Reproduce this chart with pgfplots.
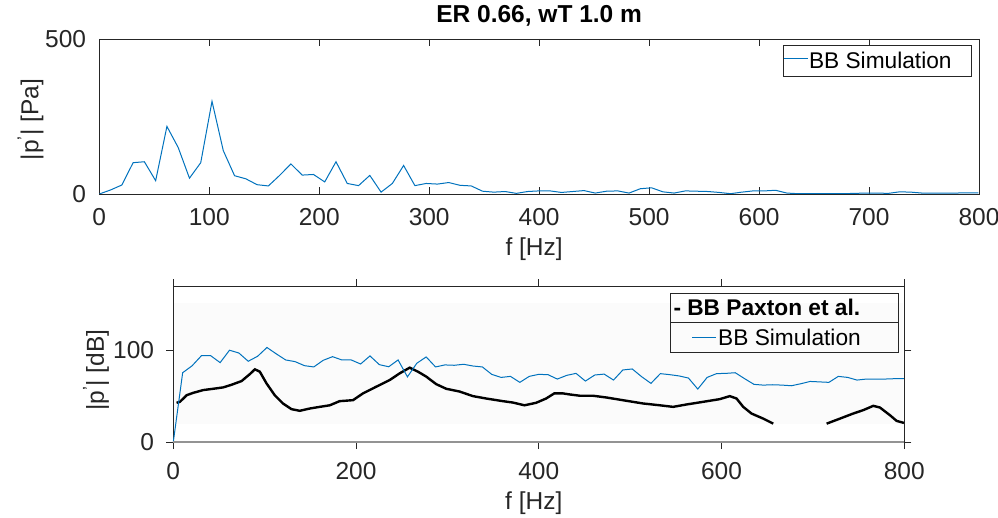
\documentclass[border=0pt]{standalone}
\usepackage{fontspec}
\setmainfont{Liberation Sans}
\usepackage{pgfplots}
\pgfplotsset{compat=1.18}
\definecolor{axcol}{HTML}{262626}
\definecolor{mblue}{HTML}{0072BD}

\begin{document}
\begin{tikzpicture}[font=\fontsize{24.5}{29}\selectfont]
\path[use as bounding box] (0pt,0pt) rectangle (998pt,517pt);
\pgfplotsset{
  mstyle/.style={
    scale only axis, anchor=south west,
    xmin=0, xmax=800,
    axis line style={axcol, line width=0.8pt},
    every tick/.style={axcol, line width=0.8pt},
    major tick length=7pt,
    tick label style={text=axcol, inner sep=0pt},
    /pgf/number format/assume math mode=true,
    label style={text=axcol, inner sep=0pt},
  }
}

% ---------------- top: amplitude in Pa ----------------
\begin{axis}[mstyle,
  at={(99.3pt,323pt)}, width=879.7pt, height=155pt,
  ymin=0, ymax=500,
  xtick={0,100,...,800}, ytick={0,500},
  tick align=inside,
  xticklabel style={anchor=base, yshift=-31.7pt},
  yticklabel style={anchor=east, xshift=-13pt},
  title={\textbf{ER 0.66, wT 1.0 m}},
  title style={at={(axis description cs:0.5,1)}, anchor=base, yshift=10.7pt,
    font=\fontsize{24.5}{29}\selectfont, inner sep=0pt},
  xlabel={f [Hz]},
  xlabel style={at={(axis description cs:0.5,0)}, anchor=base, yshift=-61.7pt, xshift=-5pt},
  ylabel={|p\textsuperscript{'}| [Pa]},
  ylabel style={at={(axis description cs:-0.0782,0.48)}, anchor=center},
  legend style={at={(axis description cs:1,1)}, anchor=north east,
    xshift=-7pt, yshift=-6pt, draw=axcol, line width=0.8pt, inner sep=0pt,
    font=\fontsize{22.7}{27}\selectfont,
    nodes={inner xsep=1pt, inner ysep=6.6pt}},
  legend cell align=left,
  legend image code/.code={\draw[#1] (0pt,2pt) -- (24pt,2pt);},
]
\addplot[mblue, line width=1pt] coordinates {
(0,0) (10.25,13) (20.5,29) (30.75,101) (41,104) (51.25,43) (61.5,218)
(71.75,150) (82,51) (92.25,101) (102.5,299) (112.75,140) (123,59)
(133.25,49) (143.5,30) (153.75,26) (164,60) (174.25,97) (184.5,61)
(194.75,63) (205,39) (215.25,104) (225.5,34) (235.75,27) (246,60)
(256.25,6) (266.5,34) (276.75,92) (287,27) (297.25,34) (307.5,32)
(317.75,37) (328,28) (338.25,26) (348.5,9) (358.75,6) (369,8)
(379.25,2) (389.5,8) (399.75,10) (410,10) (420.25,5) (430.5,8)
(440.75,11) (451,3) (461.25,9) (471.5,10) (481.75,3) (492,17)
(502.25,20) (512.5,7) (522.75,3) (533,10) (543.25,9) (553.5,8)
(563.75,5) (574,1) (584.25,6) (594.5,10) (604.75,10) (615,12)
(625.25,3) (635.5,1) (645.75,1) (656,1) (666.25,1) (676.5,1)
(686.75,2) (697,3) (707.25,3) (717.5,2) (727.75,7) (738,6)
(748.25,3) (758.5,3) (768.75,3) (779,3) (789.25,4) (799.5,4)
};
\addlegendentry{BB Simulation\hspace*{19pt}}
\end{axis}

% ---------------- bottom: level in dB ----------------
\begin{axis}[mstyle,
  at={(173.3pt,75pt)}, width=731pt, height=156pt,
  ymin=0, ymax=170, clip=false,
  xtick={0,200,...,800}, ytick={0,100},
  tick align=outside,
  every x tick label/.append style={anchor=north, yshift=-12.7pt},
  every y tick label/.append style={anchor=east, xshift=-12pt},
  xlabel={f [Hz]},
  xlabel style={at={(axis description cs:0.5,0)}, anchor=base, yshift=-67.3pt, xshift=-5pt},
  ylabel={|p\textsuperscript{'}| [dB]},
  ylabel style={at={(axis description cs:-0.1057,0.46)}, anchor=center},
]
% light background of the digitised reference
\addplot[fill=gray!3, draw=none, forget plot] coordinates {
(1,20) (799,20) (799,151) (1,151)} -- cycle;
% Paxton et al. (digitised)
\addplot[black, line width=2.4pt, forget plot] coordinates {
(3.6,42.7) (7.3,43.8) (14.6,51) (21.9,53.6) (32.8,56.6) (43.7,58)
(54.6,59.5) (63.8,62.4) (74.7,66.4) (83.8,74) (89.3,79.2) (94.7,76.6)
(102,63.9) (111,51) (120,42) (129.3,35.8) (138.4,34) (149.4,36.5)
(160.3,38.3) (171.2,40) (182,44.5) (196.7,45.6) (207.6,53) (222,60.2)
(236.8,67.5) (247.7,74.8) (258.7,81) (267.8,76.6) (276.9,71.2)
(287.8,63) (298.7,58) (313.3,55) (327.9,50) (342.4,47.4) (360.7,44.5)
(371.6,43) (384.3,40) (397,42.7) (408,47.4) (417,53) (426.2,53)
(434,51.8) (445,50.4) (459.5,50.4) (474,48.5) (496,44.9) (514,42)
(532.5,40) (547,38.3) (561.7,40.9) (580,43.8) (598,46.7) (609,50)
(616.4,47.4) (623.7,38.3) (632.8,31) (645.6,25.5) (656.6,20)
};
\addplot[black, line width=2.4pt, forget plot] coordinates {
(715,20) (729.6,25.5) (744,31) (755,34.7) (766,39.4) (773.3,37.6)
(784.3,29.2) (791.6,23) (799.6,20.8)
};
% simulation
\addplot[mblue, line width=1pt, forget plot] coordinates {
(0,0) (10.25,75.5) (20.5,83) (30.75,94) (41,94) (51.25,86.5) (61.5,100)
(71.75,97) (82,88) (92.25,93.4) (102.5,103) (112.75,96) (123,89.4)
(133.25,87.6) (143.5,83.2) (153.75,81.8) (164,89) (174.25,93)
(184.5,89.4) (194.75,89.4) (205,85) (215.25,93.8) (225.5,84.3)
(235.75,82) (246,89.4) (256.25,71) (266.5,85.8) (276.75,92.7)
(287,81.8) (297.25,84) (307.5,83.6) (317.75,84.7) (328,82.8)
(338.25,81.8) (348.5,73.7) (358.75,70.4) (369,71.5) (379.25,65)
(389.5,71.5) (399.75,73.7) (410,73.4) (420.25,68.6) (430.5,72.6)
(440.75,74.8) (451,66.4) (461.25,73) (471.5,74) (481.75,67.5)
(492,78.5) (502.25,79.6) (512.5,71.2) (522.75,63.9) (533,74.5)
(543.25,73.4) (553.5,72) (563.75,69.7) (574,57.7) (584.25,70.4)
(594.5,74.5) (604.75,74.8) (615,75.5) (625.25,69) (635.5,62.8)
(645.75,62) (656,62.4) (666.25,62) (676.5,61.3) (686.75,63.5)
(697,66) (707.25,65.5) (717.5,65) (727.75,71.5) (738,70.4)
(748.25,67.5) (758.5,68.6) (768.75,68.6) (779,68.6) (789.25,69)
(799.5,69)
};
% grey zero line of the overlaid image
\addplot[gray!85, line width=1.6pt, forget plot] coordinates {(0,0) (800,0)};
\end{axis}

% legend of the lower panel
\begin{scope}[font=\fontsize{22.7}{27}\selectfont]
\draw[axcol, line width=0.8pt] (670.7pt,164.7pt) rectangle (898.3pt,223.7pt);
\draw[axcol, line width=0.8pt] (670.7pt,194.3pt) -- (898.3pt,194.3pt);
\node[anchor=base west, inner sep=0pt] at (673.3pt,201.3pt) {\textbf{- BB Paxton et al.}};
\draw[mblue, line width=1pt] (692pt,179.7pt) -- (716pt,179.7pt);
\node[anchor=base west, inner sep=0pt] at (718pt,171.3pt) {BB Simulation};
\end{scope}
\end{tikzpicture}
\end{document}
